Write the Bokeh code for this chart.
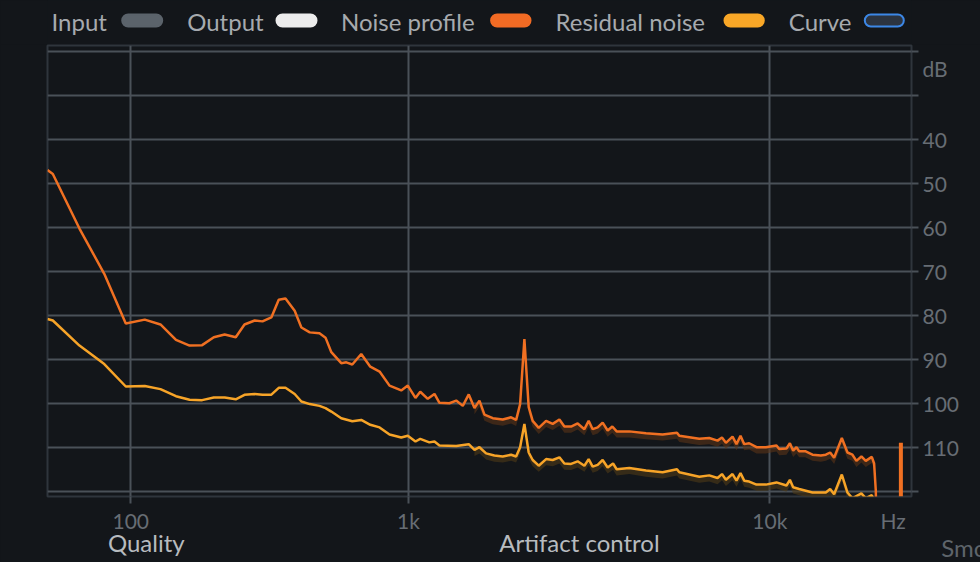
import numpy as np
from bokeh.plotting import figure
from bokeh.models import Range1d, FixedTicker, LinearAxis, Title
from bokeh.layouts import column
from bokeh.embed import file_html
from bokeh.resources import INLINE
from bokeh.core.properties import value

FONT = "Lato"
BG = "#13161a"
GRID = "#4a5158"
FRAME = "#2f353c"
TICK_TEXT = "#676d74"

# ---------------- data ----------------
noise_freq = [20, 24, 46, 70, 94, 118, 140, 164, 187, 210, 233, 256, 281, 302, 328, 349, 374, 396, 417, 447,
              470, 500, 537, 561, 585, 628, 651, 679, 723, 770, 821, 879, 952, 995, 1048, 1082, 1138, 1190, 1230, 1314,
              1374, 1435, 1492, 1549, 1600, 1653, 1745, 1861, 1965, 2029, 2082, 2140, 2200, 2257, 2346, 2459, 2565, 2677, 2763, 2883,
              3006, 3137, 3223, 3306, 3412, 3521, 3634, 3743, 3846, 4165, 4625, 5131, 5614, 5697, 6452, 6865, 7230, 7431, 7616, 7935,
              8133, 8338, 8533, 8801, 9208, 9760, 10424, 10600, 11089, 11326, 11557, 11796, 11995, 12449, 13025, 13716, 14146, 14528, 14890, 15615,
              16167, 16672, 17086, 17620, 18104, 18787, 19059, 19259, 19300]
noise_db = [46.9, 47.8, 60.2, 70.5, 81.8, 80.9, 82.0, 85.5, 86.8, 86.7, 84.9, 84.3, 84.9, 82.0, 81.1, 81.3, 80.4, 76.4, 76.1, 78.9,
            82.7, 83.8, 84.0, 85.0, 88.3, 90.8, 90.6, 91.1, 88.7, 91.6, 92.7, 95.9, 97.0, 95.9, 98.7, 97.3, 98.9, 97.8, 99.8, 99.9,
            99.3, 100.5, 97.9, 101.0, 99.3, 102.5, 103.3, 103.6, 103.1, 103.7, 100.1, 85.3, 100.8, 103.9, 105.5, 103.9, 104.6, 103.6, 105.2, 105.2,
            104.5, 105.8, 103.9, 105.8, 105.4, 104.3, 106.1, 105.2, 106.3, 106.3, 106.7, 107.0, 106.6, 107.3, 108.0, 107.8, 108.4, 107.7, 108.9, 107.5,
            109.2, 107.3, 109.2, 109.0, 109.9, 109.9, 109.5, 110.3, 110.2, 109.0, 110.7, 109.9, 110.8, 110.8, 111.6, 111.8, 111.6, 111.1, 112.3, 107.8,
            111.1, 111.6, 113.0, 112.0, 113.0, 112.1, 113.6, 119.8, 125.0]

resid_freq = [20, 24, 46, 70, 94, 118, 140, 164, 187, 210, 233, 256, 281, 302, 328, 349, 374, 396, 417, 447,
              470, 500, 537, 561, 585, 628, 679, 723, 770, 821, 879, 952, 995, 1048, 1082, 1150, 1190, 1230, 1374, 1492,
              1549, 1600, 1671, 1763, 1861, 1965, 2029, 2082, 2140, 2200, 2257, 2346, 2459, 2565, 2677, 2763, 2883, 3006, 3137, 3223,
              3306, 3412, 3521, 3634, 3760, 3846, 4165, 4625, 5131, 5614, 5697, 6452, 6865, 7230, 7431, 7616, 7935, 8133, 8338, 8533,
              8801, 9208, 9760, 10424, 11089, 11326, 11557, 11995, 13025, 14146, 14528, 14890, 15615, 16167, 16672, 17620, 18104, 18787, 19059, 19300]
resid_db = [80.75, 81.1, 86.8, 91.0, 96.1, 96.0, 96.7, 98.3, 99.1, 99.2, 98.6, 98.6, 99.0, 98.0, 97.8, 98.0, 97.95, 96.4, 96.4, 97.8,
            99.5, 100.1, 100.5, 101.0, 101.8, 103.3, 104.0, 103.7, 104.8, 105.4, 107.0, 107.7, 107.3, 108.6, 108.0, 108.8, 108.6, 109.5, 109.6, 109.2,
            110.5, 109.9, 111.3, 111.8, 112.0, 111.6, 112.0, 109.9, 104.6, 111.1, 112.8, 114.1, 112.6, 112.8, 112.2, 113.6, 113.7, 113.1, 114.1, 112.6,
            114.3, 113.9, 112.8, 114.5, 113.6, 114.9, 114.6, 115.2, 115.6, 114.9, 115.6, 116.6, 116.3, 116.9, 116.0, 117.3, 116.0, 117.5, 115.8, 117.5,
            117.7, 118.4, 118.4, 117.9, 118.6, 117.3, 119.0, 119.4, 120.2, 120.2, 119.4, 120.6, 116.1, 120.2, 121.5, 120.4, 121.5, 120.8, 122.0, 125.0]

spike_freq = [22480]
spike_db = [108.9]

x_tick_freqs = [100, 1000, 10000]
x_tick_labels = ["100", "1k", "10k"]
db_ticks = [20, 30, 40, 50, 60, 70, 80, 90, 100, 110, 120]
db_label_ticks = [23.75, 40, 50, 60, 70, 80, 90, 100, 110]
db_labels = ["dB", "40", "50", "60", "70", "80", "90", "100", "110"]
unit_label_freq = [21440]
unit_labels = ["Hz"]
control_freq = [120, 3040]
control_labels = ["Quality", "Artifact control"]

legend_labels = ["Input", "Output", "Noise profile", "Residual noise", "Curve"]
legend_fill = ["#5b636b", "#ececec", "#f26b24", "#f9a727", "#2c3440"]
legend_line = ["#5b636b", "#ececec", "#f26b24", "#f9a727", "#3c87e6"]

X_MIN_HZ, X_MAX_HZ = 20, 24000
DB_TOP, DB_BOTTOM = 18.6, 121.1
FREQ_OFFSET = 100.0

NOISE_COLOR = "#f07022"
RESID_COLOR = "#f7a428"

# page layout (pixels)
W = 980
FRAME_L, FRAME_R = 47, 911


def fx(f):
    return np.log10(np.asarray(f, dtype=float) + FREQ_OFFSET)


# ---------------- legend strip (frame aligned with the chart below) ----------------
leg = figure(width=W, height=44, x_range=Range1d(FRAME_L, FRAME_R), y_range=Range1d(44, 0),
             output_backend="svg", toolbar_location=None, min_border=0,
             min_border_left=FRAME_L, min_border_right=W - FRAME_R,
             background_fill_color=BG, border_fill_color=BG, outline_line_color=None)
leg.axis.visible = False
leg.grid.visible = False
text_x = [51, 186.7, 340.5, 555, 788.3]
sw_left = [121.7, 276, 490.6, 724, 864.3]
sw_right = [161.7, 316, 530, 763.3, 903.3]
leg.text(x=text_x, y=[20.5] * 5, text=legend_labels, text_font=value(FONT),
         text_font_size="24px", text_color="#a6aaae", text_baseline="middle", text_align="left")
leg.quad(left=sw_left, right=sw_right, top=[14] * 5, bottom=[26] * 5,
         fill_color=legend_fill, line_color=legend_line, line_width=2, border_radius=6)

# ---------------- main chart ----------------
p = figure(width=W, height=518,
           x_range=Range1d(float(fx(X_MIN_HZ)), float(fx(X_MAX_HZ))),
           y_range=Range1d(DB_BOTTOM, DB_TOP),
           y_axis_location="right",
           output_backend="svg", toolbar_location=None,
           min_border_left=FRAME_L, min_border_right=W - FRAME_R, min_border_top=1, min_border_bottom=66,
           background_fill_color=BG, border_fill_color=BG,
           outline_line_color=FRAME, outline_line_width=2)


def style_axis(ax, size="21px", color=TICK_TEXT, marks=True):
    ax.axis_line_color = None
    ax.minor_tick_line_color = None
    ax.major_tick_in = 0
    if marks:
        ax.major_tick_line_color = GRID
        ax.major_tick_line_width = 2
        ax.major_tick_out = 7
    else:
        ax.major_tick_line_color = None
        ax.major_tick_out = 0
    ax.major_label_text_font = FONT
    ax.major_label_text_font_size = size
    ax.major_label_text_color = color


xt = [float(v) for v in fx(x_tick_freqs)]

# bottom: tick marks + frequency labels
xa = p.xaxis[0]
xa.ticker = FixedTicker(ticks=xt)
xa.major_label_overrides = {t: lab for t, lab in zip(xt, x_tick_labels)}
style_axis(xa)
xa.major_label_standoff = 4

# unit label on the same row (no tick mark)
ut = [float(v) for v in fx(unit_label_freq)]
ua = LinearAxis(ticker=FixedTicker(ticks=ut), major_label_overrides={t: lab for t, lab in zip(ut, unit_labels)})
style_axis(ua, marks=False)
ua.major_label_standoff = -28
p.add_layout(ua, "below")

# "Smoothing" control title, partly outside the window
p.add_layout(Title(text="Smoothing", align="left", offset=893.7, standoff=-10,
                   text_font=FONT, text_font_size="24px", text_color="#5e646a",
                   text_font_style="normal"), "below")

# control labels row
ct = [float(v) for v in fx(control_freq)]
ca = LinearAxis(ticker=FixedTicker(ticks=ct), major_label_overrides={t: lab for t, lab in zip(ct, control_labels)})
style_axis(ca, size="24px", color="#b7bbbf", marks=False)
ca.major_label_standoff = -29
p.add_layout(ca, "below")

# right: tick marks only (empty labels), then the labels
ya = p.yaxis[0]
ya.ticker = FixedTicker(ticks=db_ticks)
ya.major_label_overrides = {t: "" for t in db_ticks}
style_axis(ya)
ya.major_label_standoff = 0
yl = LinearAxis(ticker=FixedTicker(ticks=db_label_ticks),
                major_label_overrides={t: lab for t, lab in zip(db_label_ticks, db_labels)})
style_axis(yl, marks=False)
yl.major_label_standoff = 4
p.add_layout(yl, "right")

p.xgrid.ticker = FixedTicker(ticks=xt)
p.ygrid.ticker = FixedTicker(ticks=db_ticks)
for g in (p.xgrid, p.ygrid):
    g.grid_line_color = GRID
    g.grid_line_width = 2

# dark shadow band under the high-frequency part of each curve
for fr, db, col in ((noise_freq, noise_db, "#5a3318"), (resid_freq, resid_db, "#4f3a17")):
    fr_a = np.asarray(fr, float)
    db_a = np.asarray(db, float)
    m = (fr_a >= 1500) & (fr_a <= 19100)
    p.varea(x=fx(fr_a[m]), y1=db_a[m], y2=db_a[m] + 1.4, fill_color=col, fill_alpha=0.6)

p.line(x=fx(noise_freq), y=noise_db, line_color=NOISE_COLOR, line_width=2.5)
p.line(x=fx(resid_freq), y=resid_db, line_color=RESID_COLOR, line_width=2.5)
p.segment(x0=fx(spike_freq), y0=[DB_BOTTOM] * len(spike_freq), x1=fx(spike_freq), y1=spike_db,
          line_color=NOISE_COLOR, line_width=4)

layout = column(leg, p, spacing=0)

html = file_html(layout, INLINE, title="Noise reduction")
html = html.replace("</head>",
                    "<style>html,body{margin:0;padding:0;background:%s;overflow:hidden;}</style></head>" % BG, 1)
open("out.html", "w").write(html)
